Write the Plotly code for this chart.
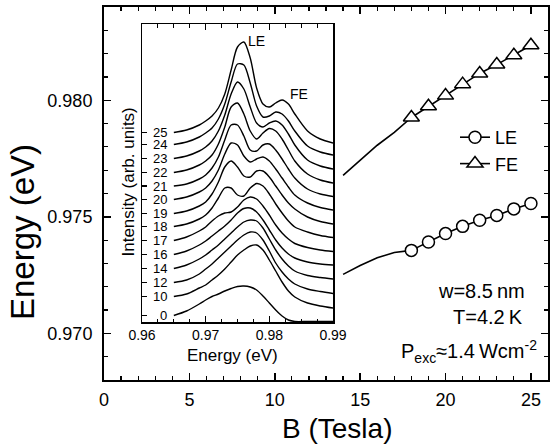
import plotly.graph_objects as go

FONT = "Liberation Sans, Arial, sans-serif"

# ---------------- main panel data ----------------
B_line = [14, 15, 16, 17, 18]
LE_line = [0.97253, 0.97291, 0.97324, 0.97347, 0.97356]
FE_line = [0.97678, 0.97742, 0.97807, 0.97862, 0.97926]
B_pts = [18, 19, 20, 21, 22, 23, 24, 25]
LE_pts = [0.97356, 0.97392, 0.97428, 0.97459, 0.97485, 0.97506, 0.97534, 0.97557]
FE_pts = [0.97926, 0.97974, 0.98020, 0.98069, 0.98115, 0.98153, 0.98193, 0.98236]

# ---------------- inset spectra (arb. units) ----------------
energy = [0.965, 0.967, 0.969, 0.970, 0.971, 0.972, 0.973, 0.974, 0.975, 0.976, 0.977,
          0.978, 0.979, 0.980, 0.981, 0.982, 0.983, 0.984, 0.986, 0.988, 0.990]
spec_25 = [189.5, 192, 197, 201, 206, 214, 228, 252, 275, 280, 264, 234, 218, 215, 219, 222, 218, 208, 191, 183, 179]
spec_24 = [177.5, 180, 185, 189, 194, 203, 218, 240, 258, 257, 239, 216, 205, 206, 210, 208, 201, 191, 176, 170, 167]
spec_23 = [163.5, 166, 171, 175, 181, 191, 207, 228, 240, 233, 215, 199, 195, 199, 201, 197, 188, 177, 162, 156, 153]
spec_22 = [149.5, 152, 157, 161, 167, 178, 195, 215, 219, 208, 191, 183, 189, 193.5, 191, 183, 172, 161, 148, 142, 139]
spec_21 = [136, 138, 143, 147, 154, 165, 182, 197, 197, 186, 172, 171, 177, 178, 172, 163, 153, 144, 133, 128, 125.5]
spec_20 = [122.5, 125, 130, 134, 141, 152, 168, 179, 177, 166, 160, 163, 165, 161, 153, 144, 135, 127, 119, 114.5, 112]
spec_19 = [108.5, 111, 116, 120, 128, 140, 155, 161, 155, 146, 145, 151, 151, 145, 136, 127, 119, 113, 105, 100.5, 98]
spec_18 = [95.5, 98, 103, 107, 114, 124, 134, 134, 127, 126, 134, 138.5, 136, 128, 118, 109, 101, 95, 90, 86.5, 84.5]
spec_17 = [81.5, 85, 91, 95, 101, 106, 109, 110, 115, 122, 125, 123, 116, 107, 97, 89, 83, 78.5, 74.5, 72, 70.5]
spec_16 = [67.5, 71, 77, 81, 86, 91, 96, 102, 109, 113.5, 114, 110, 102, 92, 82, 74, 68, 64, 60, 58, 57]
spec_14 = [53.5, 57, 63, 67, 72, 77, 83, 89, 95, 100, 102, 101, 94, 83, 72, 63, 56, 51, 46.5, 44.5, 43]
spec_12 = [39.5, 42, 48, 53, 58, 64, 70, 76, 82, 87, 90, 89, 82, 71, 59, 50, 43, 38, 33, 30.5, 28.5]
spec_10 = [25.5, 28, 34, 37, 42, 47, 53, 60, 67, 72, 76, 77, 72, 62, 51, 40, 31, 25, 19, 16, 14]
spec_0 = [6.5, 11, 18, 22, 25.5, 28, 31, 33.5, 35.5, 36, 35, 32, 26, 19, 12, 6, 2, 0.5, 0.5, 0.5, 0.5]

field_labels = ["25", "24", "23", "22", "21", "20", "19", "18", "17", "16", "14", "12", "10", "0"]
spectra = [spec_25, spec_24, spec_23, spec_22, spec_21, spec_20, spec_19, spec_18,
           spec_17, spec_16, spec_14, spec_12, spec_10, spec_0]

main_xticks = [0, 5, 10, 15, 20, 25]
main_yticks = [0.970, 0.975, 0.980]
main_yticktext = ["0.970", "0.975", "0.980"]
inset_xticks = [0.96, 0.97, 0.98, 0.99]
inset_xticktext = ["0.96", "0.97", "0.98", "0.99"]

fig = go.Figure()

# main panel traces
fig.add_trace(go.Scatter(x=B_line, y=LE_line, mode="lines", line=dict(color="black", width=1.6),
                         showlegend=False, xaxis="x", yaxis="y"))
fig.add_trace(go.Scatter(x=B_line, y=FE_line, mode="lines", line=dict(color="black", width=1.6),
                         showlegend=False, xaxis="x", yaxis="y"))
fig.add_trace(go.Scatter(x=B_pts, y=LE_pts, mode="lines+markers", name="LE",
                         line=dict(color="black", width=1.6),
                         marker=dict(symbol="circle", size=12, color="white",
                                     line=dict(color="black", width=1.5)),
                         xaxis="x", yaxis="y"))
fig.add_trace(go.Scatter(x=B_pts, y=FE_pts, mode="lines+markers", name="FE",
                         line=dict(color="black", width=1.6),
                         marker=dict(symbol="triangle-up", size=14, color="white",
                                     line=dict(color="black", width=1.5)),
                         xaxis="x", yaxis="y"))

# inset spectra
for lab, spec in zip(field_labels, spectra):
    fig.add_trace(go.Scatter(x=energy, y=spec, mode="lines",
                             line=dict(color="black", width=1.4, shape="spline", smoothing=0.8),
                             showlegend=False, xaxis="x2", yaxis="y2"))


def txt(x, y, text, size, xref="paper", yref="paper", xanchor="center", angle=0):
    if xref == "paper":
        x = x / 557
    if yref == "paper":
        y = 1 - y / 445
    return dict(x=x, y=y, xref=xref, yref=yref, text=text, showarrow=False,
                xanchor=xanchor, yanchor="middle", textangle=angle,
                font=dict(family=FONT, size=size, color="black"))


annotations = []
for lab, spec in zip(field_labels, spectra):
    annotations.append(txt(0.9642, spec[0], lab, 13, xref="x2", yref="y2", xanchor="right"))
annotations += [
    txt(0.97806, 281, "LE", 14, xref="x2", yref="y2"),
    txt(0.98471, 228, "FE", 14, xref="x2", yref="y2"),
    # axis titles
    txt(22, 232, "Energy (eV)", 33, angle=-90),
    txt(336.5, 428, "B (Tesla)", 28),
    txt(232.8, 355, "Energy (eV)", 17),
    txt(127.5, 182, "Intensity (arb. units)", 17, angle=-90),
    # parameters
    txt(527, 291, "w=8.5\u2009nm", 20, xanchor="right"),
    txt(525, 317, "T=4.2\u2009K", 20, xanchor="right"),
    txt(539, 351, "P<sub>exc</sub>\u22481.4\u2009Wcm<sup>-2</sup>", 20, xanchor="right"),
]

axis_common = dict(showgrid=False, zeroline=False, automargin=False, showline=True, linecolor="black")

fig.update_layout(
    template="none",
    width=557, height=445, autosize=False,
    margin=dict(l=0, r=0, t=0, b=0, pad=0),
    paper_bgcolor="white", plot_bgcolor="white",
    font=dict(family=FONT, color="black"),
    showlegend=True,
    legend=dict(x=455 / 557, y=1 - 119 / 445, xanchor="left", yanchor="top",
                bgcolor="rgba(0,0,0,0)", borderwidth=0,
                font=dict(family=FONT, size=18, color="black"), tracegroupgap=0),
    xaxis=dict(domain=[104 / 557, 548 / 557], range=[0, 26], anchor="y",
               tickvals=main_xticks, ticks="inside", ticklen=7, tickwidth=1.5, tickcolor="black",
               minor=dict(dtick=1, tick0=0, ticks="inside", ticklen=4, tickwidth=1.2, tickcolor="black"),
               linewidth=2, mirror="allticks",
               tickfont=dict(family=FONT, size=18, color="black"), ticklabelstandoff=2, **axis_common),
    yaxis=dict(domain=[1 - 380 / 445, 1 - 7 / 445], range=[0.968, 0.984], anchor="x",
               tickvals=main_yticks, ticktext=main_yticktext,
               ticks="inside", ticklen=7, tickwidth=1.5, tickcolor="black",
               minor=dict(dtick=0.001, tick0=0.968, ticks="inside", ticklen=4, tickwidth=1.2, tickcolor="black"),
               linewidth=2, mirror="allticks",
               tickfont=dict(family=FONT, size=18, color="black"), ticklabelstandoff=6, **axis_common),
    xaxis2=dict(domain=[142 / 557, 333 / 557], range=[0.96, 0.99], anchor="y2",
                tickvals=inset_xticks, ticktext=inset_xticktext,
                ticks="inside", ticklen=6, tickwidth=1.2, tickcolor="black",
                minor=dict(dtick=0.0025, tick0=0.96, ticks="inside", ticklen=3.5, tickwidth=1, tickcolor="black"),
                linewidth=1.5, mirror="allticks",
                tickfont=dict(family=FONT, size=14, color="black"), ticklabelstandoff=0, **axis_common),
    yaxis2=dict(domain=[1 - 322 / 445, 1 - 24 / 445], range=[0, 298], anchor="x2",
                tickvals=[s[0] for s in spectra], ticks="inside", ticklen=5, tickwidth=1.2,
                tickcolor="black", showticklabels=False,
                linewidth=1.5, mirror=True, **axis_common),
    annotations=annotations,
)

fig.write_html("out.html", config={"displayModeBar": False, "staticPlot": True},
               post_script="document.body.style.margin='0';document.body.style.overflow='hidden';")
